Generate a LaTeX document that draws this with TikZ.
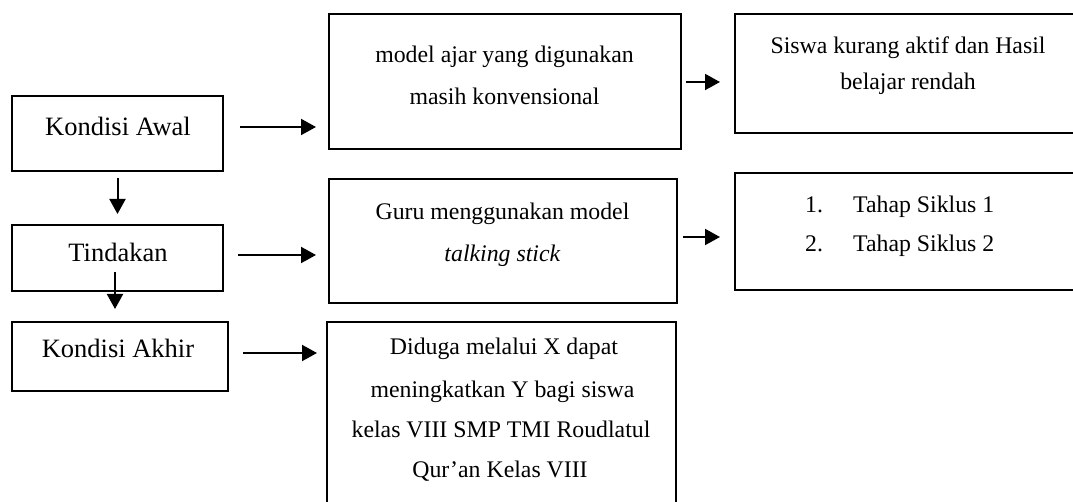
\documentclass[tikz,border=0pt]{standalone}
\usepackage{fontspec}
\setmainfont{Liberation Serif}
\usetikzlibrary{arrows.meta,calc}
\begin{document}
\begin{tikzpicture}[x=1pt,y=-1pt,
  box/.style={draw=black,line width=2pt,rectangle,inner sep=0pt,minimum width=#1},
  txt/.style={inner sep=0pt,anchor=base,font=\fontsize{26.5}{32}\selectfont},
  rtxt/.style={inner sep=0pt,anchor=base,font=\fontsize{23.8}{29}\selectfont},
  ltxt/.style={inner sep=0pt,anchor=base west,font=\fontsize{23.8}{29}\selectfont},
  arr/.style={line width=2pt,-{Triangle[length=15pt,width=16pt]}}]
\useasboundingbox (0,0) rectangle (1073,502);
% boxes
\node[box=211pt,minimum height=75pt] (awal) at (117.5,133.5) {};
\node[box=211pt,minimum height=66pt] (tind) at (117.5,258) {};
\node[box=216pt,minimum height=69pt] (akhir) at (120,356.5) {};
\node[box=352pt,minimum height=135pt] (model) at (505,81.5) {};
\node[box=355pt,minimum height=119pt] (siswa) at (912.5,73.5) {};
\node[box=348pt,minimum height=124pt] (guru) at (503,241) {};
\node[box=355pt,minimum height=117pt] (tahap) at (912.5,231.5) {};
\node[box=349pt,minimum height=208pt] (diduga) at (501.5,426) {};
% texts
\node[txt] (t1) at (118,136) {Kondisi Awal};
\node[txt] (t2) at (118,262) {Tindakan};
\node[txt] (t3) at (118,357) {Kondisi Akhir};
\node[rtxt] (t4) at (504.5,63) {model ajar yang digunakan};
\node[rtxt] (t5) at (504.5,105) {masih konvensional};
\node[rtxt] (t6) at (908,54) {Siswa kurang aktif dan Hasil};
\node[rtxt] (t7) at (908,90) {belajar rendah};
\node[rtxt] (t8) at (502.5,220) {Guru menggunakan model};
\node[rtxt] (t9) at (502.5,262) {\textit{talking stick}};
\node[ltxt] (t10) at (805,213) {1.};
\node[ltxt] (t11) at (853,213) {Tahap Siklus 1};
\node[ltxt] (t12) at (805,252) {2.};
\node[ltxt] (t13) at (853,252) {Tahap Siklus 2};
\node[rtxt] (t14) at (504,355) {Diduga melalui X dapat};
\node[rtxt] (t15) at (502.5,397) {meningkatkan Y bagi siswa};
\node[rtxt] (t16) at (501,437) {kelas VIII SMP TMI Roudlatul};
\node[rtxt] (t17) at (500,477) {Qur’an Kelas VIII};
% arrow coordinates
\coordinate (a1s) at ($(awal.east)+(16,-6.5)$);
\coordinate (a1e) at ($(model.west)+(-12,0)$);
\coordinate (a2s) at ($(model.east)+(4,0.5)$);
\coordinate (a2e) at ($(siswa.west)+(-14,0)$);
\coordinate (a3s) at ($(tind.east)+(14,-3)$);
\coordinate (a3e) at ($(guru.west)+(-12,0)$);
\coordinate (a4s) at ($(guru.east)+(5,-4)$);
\coordinate (a4e) at ($(tahap.west)+(-14,0)$);
\coordinate (a5s) at ($(akhir.east)+(14,-3.5)$);
\coordinate (a5e) at ($(diduga.west)+(-9,0)$);
\coordinate (a6s) at ($(awal.south)+(0,6)$);
\coordinate (a6e) at ($(tind.north)+(0,-10)$);
\coordinate (a7s) at ($(tind.south)+(-2.5,-20)$);
\coordinate (a7e) at ($(akhir.north)+(0,-12)$);
% arrows
\draw[arr] (a1s) -- (a1s -| a1e);
\draw[arr] (a2s) -- (a2s -| a2e);
\draw[arr] (a3s) -- (a3s -| a3e);
\draw[arr] (a4s) -- (a4s -| a4e);
\draw[arr] (a5s) -- (a5s -| a5e);
\draw[arr] (a6s) -- (a6s |- a6e);
\draw[arr] (a7s) -- (a7s |- a7e);
\end{tikzpicture}
\end{document}
